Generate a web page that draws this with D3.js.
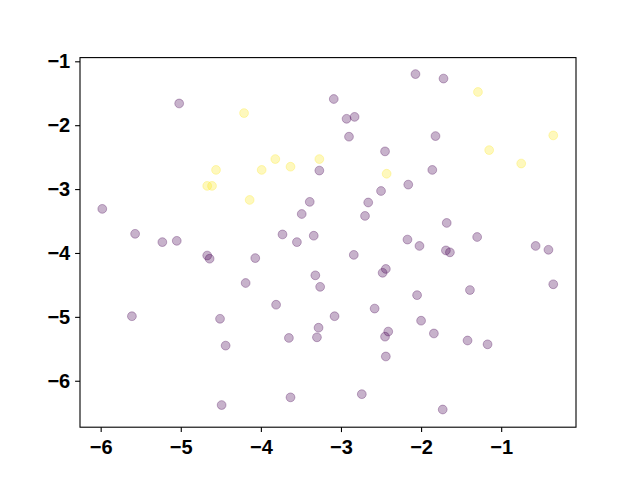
<!DOCTYPE html>
<html>
<head>
<meta charset="utf-8">
<script src="https://cdn.jsdelivr.net/npm/d3@7"></script>
<style>
  html, body { margin: 0; padding: 0; background: #ffffff; }
  svg { display: block; }
</style>
</head>
<body>
<svg id="chart" width="640" height="480"></svg>
<script>
// Group 0 (purple) points
const purpleX = [-5.02,-5.98,-5.57,-5.23,-5.05,-3.09,-2.93,-2.83,-2.90,-2.45,-3.27,-2.16,-2.50,-3.39,-2.66,-3.49,-2.70,-3.73,-3.55,-3.34,-2.17,-2.07,-1.72,-1.82,-1.86,-1.68,-2.02,-1.30,-0.57,-4.67,-4.64,-4.19,-5.61,-4.51,-4.44,-4.49,-4.07,-2.84,-2.44,-2.48,-3.32,-3.26,-3.81,-2.58,-3.08,-3.28,-2.41,-2.45,-3.65,-3.30,-2.44,-3.63,-2.74,-1.69,-1.64,-0.41,-0.35,-1.39,-2.05,-2.00,-1.84,-1.42,-1.17,-1.73];
const purpleY = [-1.66,-3.31,-3.70,-3.83,-3.81,-1.59,-1.90,-1.87,-2.18,-2.41,-2.71,-2.93,-3.03,-3.20,-3.21,-3.39,-3.42,-3.71,-3.83,-3.73,-3.79,-1.20,-1.27,-2.17,-2.70,-3.53,-3.89,-3.75,-3.89,-4.04,-4.09,-4.47,-4.99,-5.03,-5.45,-6.38,-4.08,-4.03,-4.25,-4.31,-4.35,-4.53,-4.81,-4.87,-4.99,-5.17,-5.23,-5.31,-5.33,-5.32,-5.62,-6.26,-6.21,-3.96,-3.99,-3.95,-4.49,-4.58,-4.66,-5.06,-5.26,-5.37,-5.43,-6.45];
// Group 1 (yellow) points
const yellowX = [-4.21,-4.56,-4.67,-4.61,-4.14,-3.82,-3.99,-3.63,-3.27,-2.43,-1.29,-0.35,-1.15,-0.75];
const yellowY = [-1.81,-2.70,-2.95,-2.95,-3.17,-2.53,-2.70,-2.65,-2.53,-2.76,-1.48,-2.16,-2.39,-2.60];
const xTicks = [-6,-5,-4,-3,-2,-1];
const yTicks = [-6,-5,-4,-3,-2,-1];
const xDomain = [-6.258, -0.066];
const yDomain = [-6.727, -0.942];
const groupColors = ["#440154", "#fde725"];

const svg = d3.select("#chart");
const margin = {left: 80, right: 64, top: 57.6, bottom: 52.8};
const W = 640, H = 480;
const x = d3.scaleLinear().domain(xDomain).range([margin.left, W - margin.right]);
const y = d3.scaleLinear().domain(yDomain).range([H - margin.bottom, margin.top]);

const points = [];
purpleX.forEach((v, i) => points.push({x: v, y: purpleY[i], g: 0}));
yellowX.forEach((v, i) => points.push({x: v, y: yellowY[i], g: 1}));

svg.append("g").selectAll("circle").data(points).enter().append("circle")
  .attr("cx", d => x(d.x)).attr("cy", d => y(d.y)).attr("r", 4.4)
  .attr("fill", d => groupColors[d.g]).attr("fill-opacity", 0.3)
  .attr("stroke", d => groupColors[d.g]).attr("stroke-opacity", 0.3)
  .attr("stroke-width", 1);

const font = "'Liberation Sans', Arial, sans-serif";
const fmt = d => d < 0 ? "\u2212" + Math.abs(d) : String(d);

const xAxis = svg.append("g").attr("transform", `translate(0,${H - margin.bottom})`)
  .call(d3.axisBottom(x).tickValues(xTicks).tickFormat(fmt).tickSize(4.9).tickPadding(7.7));
const yAxis = svg.append("g").attr("transform", `translate(${margin.left},0)`)
  .call(d3.axisLeft(y).tickValues(yTicks).tickFormat(fmt).tickSize(4.9).tickPadding(4.9));
[xAxis, yAxis].forEach(a => {
  a.select(".domain").remove();
  a.selectAll(".tick line").attr("stroke", "#000").attr("stroke-width", 1.1);
  a.selectAll(".tick text").attr("fill", "#000").style("font-family", font)
    .style("font-size", "20px").style("font-weight", "bold");
});

svg.append("rect")
  .attr("x", margin.left).attr("y", margin.top)
  .attr("width", W - margin.left - margin.right)
  .attr("height", H - margin.top - margin.bottom)
  .attr("fill", "none").attr("stroke", "#000").attr("stroke-width", 1.1);
</script>
</body>
</html>
